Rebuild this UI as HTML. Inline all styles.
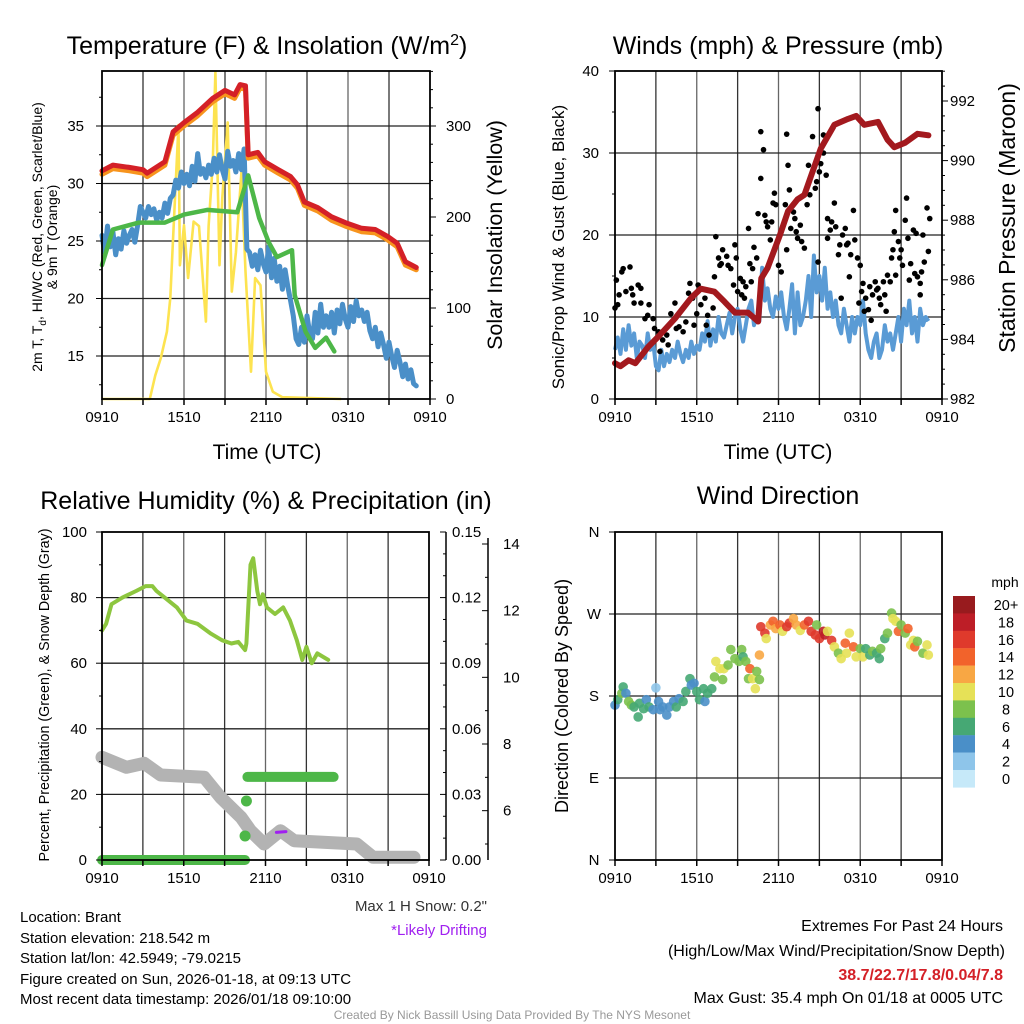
<!DOCTYPE html>
<html><head><meta charset="utf-8"><style>
body{margin:0;background:#fff}
svg{display:block;font-family:"Liberation Sans",sans-serif}
</style></head><body>
<svg id="fig" width="1024" height="1024" viewBox="0 0 1024 1024" xmlns="http://www.w3.org/2000/svg">
<g id="texts" fill="#000">
<text x="267" y="54" font-size="25" text-anchor="middle">Temperature (F) &amp; Insolation (W/m<tspan dy="-9" font-size="16">2</tspan><tspan dy="9">)</tspan></text>
<text transform="translate(42,237) rotate(-90)" font-size="14" text-anchor="middle">2m T, T<tspan dy="4" font-size="10">d</tspan><tspan dy="-4">, HI/WC (Red, Green, Scarlet/Blue)</tspan></text>
<text transform="translate(57,237) rotate(-90)" font-size="14" text-anchor="middle">&amp; 9m T (Orange)</text>
<text transform="translate(502,235) rotate(-90)" font-size="21.5" text-anchor="middle">Solar Insolation (Yellow)</text>
<text x="267" y="459" font-size="21" text-anchor="middle">Time (UTC)</text>
<text x="778" y="54" font-size="25" text-anchor="middle">Winds (mph) &amp; Pressure (mb)</text>
<text transform="translate(564,247) rotate(-90)" font-size="17" text-anchor="middle">Sonic/Prop Wind &amp; Gust (Blue, Black)</text>
<text transform="translate(1015,218) rotate(-90)" font-size="23" text-anchor="middle">Station Pressure (Maroon)</text>
<text x="778" y="459" font-size="21" text-anchor="middle">Time (UTC)</text>
<text x="266" y="509" font-size="25" text-anchor="middle">Relative Humidity (%) &amp; Precipitation (in)</text>
<text transform="translate(49,695) rotate(-90)" font-size="14.3" text-anchor="middle">Percent, Precipitation (Green), &amp; Snow Depth (Gray)</text>
<text x="487" y="911" font-size="15" text-anchor="end" fill="#333">Max 1 H Snow: 0.2"</text>
<text x="487" y="935" font-size="15" text-anchor="end" fill="#a020f0">*Likely Drifting</text>
<text x="778" y="504" font-size="25" text-anchor="middle">Wind Direction</text>
<text transform="translate(568,696) rotate(-90)" font-size="18" text-anchor="middle">Direction (Colored By Speed)</text>
<text x="1005" y="587" font-size="14" text-anchor="middle">mph</text>
<g font-size="15">
<text x="20" y="922">Location: Brant</text>
<text x="20" y="943">Station elevation: 218.542 m</text>
<text x="20" y="963">Station lat/lon: 42.5949; -79.0215</text>
<text x="20" y="984">Figure created on Sun, 2026-01-18, at 09:13 UTC</text>
<text x="20" y="1004">Most recent data timestamp: 2026/01/18 09:10:00</text>
</g>
<g font-size="16" text-anchor="end">
<text x="1003" y="931">Extremes For Past 24 Hours</text>
<text x="1005" y="956">(High/Low/Max Wind/Precipitation/Snow Depth)</text>
<text x="1003" y="980" fill="#d42027" font-weight="bold">38.7/22.7/17.8/0.04/7.8</text>
<text x="1003" y="1003">Max Gust: 35.4 mph On 01/18 at 0005 UTC</text>
</g>
<text x="512" y="1019" font-size="12" text-anchor="middle" fill="#999">Created By Nick Bassill Using Data Provided By The NYS Mesonet</text>
</g>
</svg>
<script>
// ---------- DATA ----------
const xTickLabels = ["0910","1510","2110","0310","0910"];
const redHour = [0,0.8,2.0,3.0,3.3,4.6,5.2,6.0,7.0,8.1,9.0,9.7,10.1,10.5,10.7,11.4,11.9,12.9,13.8,14.3,14.8,15.8,16.8,17.8,19.0,20.0,20.9,21.6,22.2,23.0];
const redTemp = [31.1,31.6,31.4,31.2,30.9,31.9,34.5,35.3,36.2,37.4,38.1,37.7,38.6,38.5,32.5,32.7,31.9,31.2,30.6,29.9,28.4,27.9,27.1,26.6,26.1,26.0,25.4,24.8,23.2,22.7];
const orangeTemp = [30.8,31.3,31.1,30.9,30.6,31.6,34.2,35.0,35.9,37.1,37.8,37.4,38.3,38.2,32.2,32.4,31.6,30.9,30.3,29.6,28.1,27.6,26.8,26.3,25.8,25.7,25.1,24.5,22.9,22.5];
const dewHour = [0,0.8,2.7,4.6,6.0,7.7,9.9,10.7,11.5,12.2,12.8,13.9,14.1,14.9,15.6,16.4,17.0];
const dewTemp = [22.9,26.0,26.6,26.6,27.3,27.7,27.5,30.7,27.0,24.9,23.6,24.2,20.3,17.1,15.7,16.6,15.4];
const hiwcTemp = [25.5,24.0,26.3,24.5,25.8,23.8,25.2,24.3,25.9,24.8,25.5,26.0,24.9,26.3,28.0,27.5,
27.0,28.0,27.3,27.8,26.8,27.5,27.0,28.3,27.4,28.7,29.0,30.3,29.6,31.0,30.0,
30.8,29.8,31.5,30.2,32.6,30.8,31.3,30.5,31.6,30.8,32.2,31.0,
32.5,31.2,30.4,32.8,31.5,32.0,31.0,32.6,31.2,33.0,24.3,
24.0,22.8,23.8,22.5,24.2,23.0,22.3,24.5,21.8,
23.5,21.5,22.8,20.8,22.5,21.0,19.8,18.5,16.5,
16.0,17.5,16.2,18.5,17.0,16.5,18.8,17.0,19.5,17.5,18.5,
17.5,18.8,17.0,19.0,17.8,19.5,18.2,17.5,19.3,18.0,
19.8,18.5,19.0,18.0,18.8,17.2,16.5,17.5,15.8,17.0,
16.0,14.8,16.2,15.0,14.0,15.5,14.5,13.2,14.3,13.0,13.8,12.6,12.4];
const solarHour = [0,3.5,3.9,4.3,4.75,5.0,5.2,5.6,5.7,6.0,6.3,6.7,7.1,7.6,7.8,8.1,8.3,8.6,8.8,9.2,9.5,9.8,10.2,10.5,10.9,11.2,11.6,12.0,12.5,13.2,17.5];
const solarWm2 = [0,0,26,45,74,111,177,301,147,191,133,195,190,85,190,257,359,147,221,304,118,161,249,140,30,133,125,30,8,2,0];
const presHour = [0,0.4,1.0,1.5,2.44,3.2,4.4,5.6,6.3,7.3,8.05,8.8,9.76,10.5,10.74,11.2,12.1,12.7,13.4,13.9,14.4,15.1,16.1,17.1,17.7,18.3,19.3,20.0,20.5,21.3,22.2,23.0];
const presMb = [983.2,983.1,983.3,983.2,983.75,984.1,984.7,985.4,985.7,985.6,985.26,984.9,984.9,984.6,986.05,986.4,987.5,988.3,988.7,988.85,989.5,990.4,991.2,991.4,991.5,991.2,991.3,990.7,990.45,990.6,990.9,990.85];
const windMph = [6,7.5,5.5,8.5,6,9,6.5,8,5,7,6.5,5,8,6,7,4,
3.5,6,4,5.5,4.5,6,5,7,5.5,4.5,6,5,7,5.5,6.5,
6,8,7,9.5,6.5,8.5,7,10,8,7.5,9,10.5,
8,10,11,8.5,7,9,11,12,9,10,9.5,
16,12,13.5,11,10,12.5,11,13,10,
8.5,11,14,8,13,9,10,12,15,
10,17.5,13,15,12,16,11,13,10,12,9,
8,11,9,7,10,8,10,9,12,8,
6,5,7,8,5,6,9,7,8,6,
8,10,7,11,9,12,8,10,7,11,9,10,9.5];
const gustHour = [0.0,0.1,0.2,0.3,0.5,0.6,0.8,1.1,1.2,1.3,1.4,1.7,1.9,1.9,2.2,2.4,2.5,2.8,2.9,3.2,3.3,3.5,3.8,3.9,4.1,4.4,4.5,4.7,5.0,5.2,5.4,5.5,5.7,5.8,6.0,6.1,6.3,6.6,6.7,6.8,6.9,7.2,7.3,7.4,7.6,7.7,7.8,7.9,8.2,8.3,8.5,8.7,8.8,8.9,9.0,9.2,9.3,9.4,9.5,9.6,9.8,9.9,10.0,10.1,10.2,10.4,10.5,10.7,10.7,10.9,11.0,11.1,11.2,11.4,11.5,11.6,11.7,11.8,12.0,12.2,12.5,12.6,12.6,12.7,12.8,12.9,13.1,13.2,13.3,13.4,13.6,13.7,13.9,14.1,14.2,14.3,14.5,14.7,14.8,14.9,14.9,15.0,15.1,15.3,15.3,15.5,15.6,15.6,15.8,15.9,16.1,16.2,16.4,16.5,16.6,16.7,16.9,17.0,17.1,17.2,17.3,17.5,17.6,17.8,17.9,18.0,18.1,18.2,18.3,18.4,18.6,18.7,18.8,18.9,19.1,19.2,19.3,19.4,19.5,19.7,19.8,19.9,20.0,20.2,20.3,20.4,20.5,20.6,20.6,20.8,20.9,21.0,21.1,21.3,21.4,21.5,21.6,21.7,21.9,22.0,22.1,22.2,22.4,22.4,22.5,22.6,22.7,22.9,23.0,23.1];
const gustMph = [11.1,14.5,11.5,12.7,15.5,15.9,13.1,16.1,13.5,12.7,11.7,13.9,13.5,11.7,9.8,10.2,11.5,9.8,8.6,8.2,5.8,7.2,7.8,6.6,10.4,11.7,8.6,8.8,8.2,9.4,12.9,14.1,12.3,9.0,10.4,13.9,11.5,12.3,9.0,10.2,7.8,11.1,14.9,19.8,17.2,16.3,16.5,18.2,17.4,16.3,15.9,13.9,18.8,17.2,13.1,14.7,12.7,14.3,12.3,13.7,20.8,16.5,14.3,15.9,18.5,17.2,22.6,32.6,26.9,30.4,22.4,21.6,21.0,19.4,21.6,23.9,25.1,23.7,16.3,15.5,23.7,18.2,32.3,28.5,25.5,20.8,22.8,22.0,20.4,19.6,21.2,19.2,18.4,23.7,28.5,24.9,32.0,25.7,26.5,35.4,16.7,27.7,28.7,30.0,32.2,27.3,19.6,22.0,20.6,21.6,23.9,21.0,17.6,18.8,12.3,20.0,20.8,18.8,19.0,14.9,17.6,23.0,19.4,17.2,11.7,16.3,13.1,14.1,10.7,12.3,10.9,13.7,9.6,12.7,14.3,13.3,13.5,12.3,11.5,14.3,12.7,10.7,15.1,14.3,17.2,18.2,20.4,15.1,23.0,19.2,17.2,18.2,16.3,21.8,24.5,19.6,14.5,16.5,20.6,15.3,20.2,14.9,14.1,12.7,15.5,20.0,16.7,23.3,18.0,22.0];
const rhHour = [0,0.3,0.7,1.5,2.5,3.2,3.7,4.0,4.6,5.5,6.2,7.0,8.0,8.8,9.5,10.0,10.5,10.6,10.9,11.1,11.4,11.6,11.8,12.1,12.7,13.3,13.8,14.3,14.7,15.0,15.4,15.8,16.2,16.6];
const rhPct = [70,72,78,80,82,83.5,83.5,82,80,77,73,72,69,67,66,66.5,64,66,90,92,82,78,81,77,75,77,73,67,61,65,60,63,62,61];
const snowHour = [0,1.8,3.1,4.3,7.5,8.7,10.2,10.9,11.9,13.1,14.1,18.7,19.9,22.9];
const snowIn = [7.6,7.3,7.42,7.07,7.0,6.4,5.8,5.4,5.0,5.4,5.1,5.0,4.6,4.6];
const precipHour = [0,10.5,10.5,10.6,17.0];
const precipIn = [0,0,0.011,0.027,0.038];
const dirHour = [0,0.2,0.5,0.6,0.8,1.0,1.2,1.4,1.7,1.8,2.1,2.3,2.5,2.8,3.0,3.2,3.3,3.5,3.8,4.0,4.3,4.5,4.7,5.0,5.2,5.5,5.6,5.8,6.0,6.2,6.5,6.6,6.8,7.1,7.3,7.4,7.7,7.9,8.0,8.3,8.5,8.8,9.1,9.3,9.4,9.6,9.8,9.9,10.1,10.3,10.4,10.6,10.6,10.7,11.0,11.1,11.4,11.6,11.8,12.1,12.3,12.6,12.8,13.1,13.3,13.6,13.9,14.2,14.4,14.7,14.8,15.0,15.3,15.4,15.6,15.9,16.1,16.4,16.6,16.9,17.0,17.2,17.5,17.7,18.0,18.2,18.4,18.7,18.9,19.2,19.4,19.5,19.8,20.0,20.3,20.4,20.6,20.8,21.0,21.3,21.5,21.7,21.9,22.0,22.2,22.6,22.9,23.0];
const dirDeg = [170,176,183,190,183,174,170,168,157,172,166,176,168,165,189,174,165,168,159,168,174,168,177,174,185,199,192,194,185,176,188,174,183,188,201,218,210,198,210,214,231,221,218,231,223,218,199,210,199,188,207,198,225,256,249,243,258,262,254,258,251,256,260,265,258,252,258,262,251,247,258,243,251,247,251,241,234,227,221,238,227,249,234,223,232,223,232,225,229,227,221,232,243,249,271,265,262,251,258,249,254,236,241,234,240,227,236,225];
const dirSpeed = [4,6,8,6,4,8,8,6,6,6,6,4,6,4,2,4,4,4,4,4,4,6,4,6,6,6,4,4,6,6,6,4,6,6,8,10,10,8,10,8,8,8,8,8,6,8,8,14,10,10,8,8,12,16,16,10,12,14,12,14,10,16,16,12,12,10,14,16,16,16,8,16,18,18,10,16,10,8,10,14,10,10,14,10,8,10,6,6,8,6,6,8,6,8,8,10,10,14,8,8,14,10,10,14,8,8,10,10];
const cbLabels = ["20+","18","16","14","12","10","8","6","4","2","0"];
const cbColors = ["#981b1e","#bd1e27","#df3a2c","#f2632b","#f8a744","#e6e157","#7cc14d","#46a874","#4a8fc8","#8ec5ea","#c6e9f9"];

// ---------- HELPERS ----------
const svg = document.getElementById('fig');
const NS = 'http://www.w3.org/2000/svg';
function mk(tag, attrs, parent){const e=document.createElementNS(NS,tag);for(const k in attrs)e.setAttribute(k,attrs[k]);(parent||svg).appendChild(e);return e;}
function txt(s,x,y,size,anchor,parent){const t=mk('text',{x:x,y:y,'font-size':size,'text-anchor':anchor||'middle'},parent);t.textContent=s;return t;}
function linScale(d0,d1,r0,r1){return v=>r0+(v-d0)*(r1-r0)/(d1-d0);}
function pathD(xs,ys,fx,fy){return xs.map((h,i)=>(i?'L':'M')+fx(h).toFixed(1)+','+fy(ys[i]).toFixed(1)).join('');}
function panelFrame(L,R,T,B,hLines,name){
  const g=mk('g',{});
  
  
  for(let i=1;i<8;i++){const x=L+(R-L)*i/8;mk('line',{x1:x,x2:x,y1:T,y2:B,stroke:i%2?'#333':'#666','stroke-width':1.3},g);}
  hLines.forEach(y=>mk('line',{x1:L,x2:R,y1:y,y2:y,stroke:'#222','stroke-width':1.3},g));
  return g;
}
function frameBox(L,R,T,B,name){
  const r=mk('rect',{x:L,y:T,width:R-L,height:B-T,fill:'none',stroke:'#000','stroke-width':1.8});
  
  
  const g=mk('g',{});
  
  
  for(let i=0;i<=8;i++){const x=L+(R-L)*i/8;mk('line',{x1:x,x2:x,y1:B,y2:B+6,stroke:'#000','stroke-width':1.5},g);}
  xTickLabels.forEach((s,i)=>txt(s,L+(R-L)*i/4,B+23,15,'middle',g));
}
function hX(L,R){return h=>L+h*(R-L)/24;}

// ---------- PANEL 1 ----------
(function(){
  const L=102,R=430,T=71,B=399;
  const fx=hX(L,R), fy=linScale(15,35,356,126), fs=linScale(0,300,399,126);
  panelFrame(L,R,T,B,[15,20,25,30,35].map(fy),'temp-panel');
  const sol=mk('path',{d:pathD(solarHour,solarWm2,fx,fs),fill:'none',stroke:'#fde350','stroke-width':2.6,'stroke-linejoin':'round'});
  
  
  const hh=hiwcTemp.map((v,i)=>i*0.2);
  const bl=mk('path',{d:pathD(hh,hiwcTemp,fx,fy),fill:'none',stroke:'#4a8fc8','stroke-width':5,'stroke-linejoin':'round','stroke-linecap':'round'});
  
  
  const gr=mk('path',{d:pathD(dewHour,dewTemp,fx,fy),fill:'none',stroke:'#4db748','stroke-width':4.5,'stroke-linejoin':'round','stroke-linecap':'round'});
  
  
  const or=mk('path',{d:pathD(redHour,orangeTemp,fx,fy),fill:'none',stroke:'#f7941d','stroke-width':5,'stroke-linejoin':'round','stroke-linecap':'round'});
  
  
  const rd=mk('path',{d:pathD(redHour,redTemp,fx,fy),fill:'none',stroke:'#d42027','stroke-width':5,'stroke-linejoin':'round','stroke-linecap':'round'});
  
  
  frameBox(L,R,T,B,'temp-panel');
  const ly=mk('g',{});
  
  
  [15,20,25,30,35].forEach(v=>{mk('line',{x1:L-6,x2:L,y1:fy(v),y2:fy(v),stroke:'#000'},ly);txt(String(v),L-18,fy(v)+5,15,'end',ly);});
  for(let v=12.5;v<40;v+=5)mk('line',{x1:L-3,x2:L,y1:fy(v),y2:fy(v),stroke:'#000'},ly);
  const ry=mk('g',{});
  
  
  for(let v=0;v<=360;v+=20){const y=fs(v);if(y<T)break;mk('line',{x1:R,x2:R+(v%100?3:6),y1:y,y2:y,stroke:'#000'},ry);}
  [0,100,200,300].forEach(v=>txt(String(v),R+16,fs(v)+5,15,'start',ry));
})();

// ---------- PANEL 2 ----------
(function(){
  const L=615,R=942,T=71,B=399;
  const fx=hX(L,R), fy=linScale(0,40,399,71), fp=linScale(982,992,399,101);
  panelFrame(L,R,T,B,[10,20,30].map(fy),'wind-panel');
  const wh=windMph.map((v,i)=>i*0.2);
  const wl=mk('path',{d:pathD(wh,windMph,fx,fy),fill:'none',stroke:'#5a9bd5','stroke-width':4,'stroke-linejoin':'round'});
  
  
  const gg=mk('g',{});
  
  
  gustHour.forEach((h,i)=>{const c=mk('circle',{cx:fx(h),cy:fy(gustMph[i]),r:2.8,fill:'#000'},gg);
    
    });
  const pl=mk('path',{d:pathD(presHour,presMb,fx,fp),fill:'none',stroke:'#a3191e','stroke-width':6,'stroke-linejoin':'round','stroke-linecap':'round'});
  
  
  frameBox(L,R,T,B,'wind-panel');
  const ly=mk('g',{});
  
  
  [0,10,20,30,40].forEach(v=>{mk('line',{x1:L-6,x2:L,y1:fy(v),y2:fy(v),stroke:'#000'},ly);txt(String(v),L-16,fy(v)+5,15,'end',ly);});
  for(let v=5;v<40;v+=10)mk('line',{x1:L-3,x2:L,y1:fy(v),y2:fy(v),stroke:'#000'},ly);
  const ry=mk('g',{});
  
  
  for(let v=982;v<=993;v+=0.5){const y=fp(v);if(y<T)break;mk('line',{x1:R,x2:R+(v%2?3:6),y1:y,y2:y,stroke:'#000'},ry);}
  [982,984,986,988,990,992].forEach(v=>txt(String(v),R+8,fp(v)+5,15,'start',ry));
})();

// ---------- PANEL 3 ----------
(function(){
  const L=102,R=429,T=532,B=860;
  const fx=hX(L,R), fy=linScale(0,100,860,532), fpr=linScale(0,0.15,860,532), fsn=linScale(8,14,744,544);
  panelFrame(L,R,T,B,[20,40,60,80].map(fy),'rh-panel');
  const sn=mk('path',{d:pathD(snowHour,snowIn,fx,fsn),fill:'none',stroke:'#b3b3b3','stroke-width':13,'stroke-linejoin':'round','stroke-linecap':'round'});
  
  
  const dr=mk('line',{x1:fx(12.8),x2:fx(13.5),y1:fsn(5.35),y2:fsn(5.37),stroke:'#a020f0','stroke-width':3,'stroke-linecap':'round'});
  
  
  const pg=mk('g',{});
  
  
  mk('line',{x1:fx(precipHour[0]),x2:fx(precipHour[1]),y1:fpr(precipIn[0]),y2:fpr(precipIn[1]),stroke:'#4db748','stroke-width':10,'stroke-linecap':'round'},pg);
  mk('circle',{cx:fx(precipHour[2]),cy:fpr(precipIn[2]),r:5.5,fill:'#4db748'},pg);
  mk('circle',{cx:fx(precipHour[3]),cy:fpr(precipIn[3]),r:5.5,fill:'#4db748'},pg);
  mk('line',{x1:fx(precipHour[3])+1,x2:fx(precipHour[4]),y1:fpr(precipIn[4]),y2:fpr(precipIn[4]),stroke:'#4db748','stroke-width':10,'stroke-linecap':'round'},pg);
  const rl=mk('path',{d:pathD(rhHour,rhPct,fx,fy),fill:'none',stroke:'#8dc63f','stroke-width':4,'stroke-linejoin':'round','stroke-linecap':'round'});
  
  
  frameBox(L,R,T,B,'rh-panel');
  const ly=mk('g',{});
  
  
  [0,20,40,60,80,100].forEach(v=>{mk('line',{x1:L-6,x2:L,y1:fy(v),y2:fy(v),stroke:'#000'},ly);txt(String(v),L-15,fy(v)+5,15,'end',ly);});
  for(let v=10;v<100;v+=20)mk('line',{x1:L-3,x2:L,y1:fy(v),y2:fy(v),stroke:'#000'},ly);
  const p1=mk('g',{});
  
  
  mk('line',{x1:446,x2:446,y1:T,y2:B,stroke:'#000','stroke-width':1.5},p1);
  for(let i=0;i<=15;i++){const v=i*0.01,y=fpr(v);mk('line',{x1:446,x2:446-(i%3?3:6),y1:y,y2:y,stroke:'#000'},p1);}
  ['0.00','0.03','0.06','0.09','0.12','0.15'].forEach((s,i)=>txt(s,452,fpr(i*0.03)+5,15,'start',p1));
  const p2=mk('g',{});
  
  
  mk('line',{x1:488,x2:488,y1:538,y2:B,stroke:'#000','stroke-width':1.5},p2);
  for(let v=5;v<=14;v+=1){mk('line',{x1:488,x2:488-(v%2?3:6),y1:fsn(v),y2:fsn(v),stroke:'#000'},p2);}
  [6,8,10,12,14].forEach(v=>txt(String(v),503,fsn(v)+5,15,'start',p2));
})();

// ---------- PANEL 4 ----------
(function(){
  const L=615,R=942,T=532,B=860;
  const fx=hX(L,R), fy=linScale(0,360,860,532);
  panelFrame(L,R,T,B,[90,180,270].map(fy),'dir-panel');
  const sg=mk('g',{});
  
  
  dirHour.forEach((h,i)=>{const idx=Math.max(0,Math.min(10,10-Math.floor(dirSpeed[i]/2)));
    const c=mk('circle',{cx:fx(h),cy:fy(dirDeg[i]),r:4.8,fill:cbColors[idx],'fill-opacity':0.9},sg);
    
    });
  frameBox(L,R,T,B,'dir-panel');
  const ly=mk('g',{});
  
  
  ['N','E','S','W','N'].forEach((s,i)=>{const y=fy(i*90);mk('line',{x1:L-6,x2:L,y1:y,y2:y,stroke:'#000'},ly);txt(s,L-21,y+5,15,'middle',ly);});
  const cb=mk('g',{});
  
  
  cbColors.forEach((c,i)=>{mk('rect',{x:953,y:596+i*17.4,width:22,height:17.6,fill:c},cb);txt(cbLabels[i],1006,610+i*17.4,14.5,'middle',cb);});
})();
</script>
</body></html>
